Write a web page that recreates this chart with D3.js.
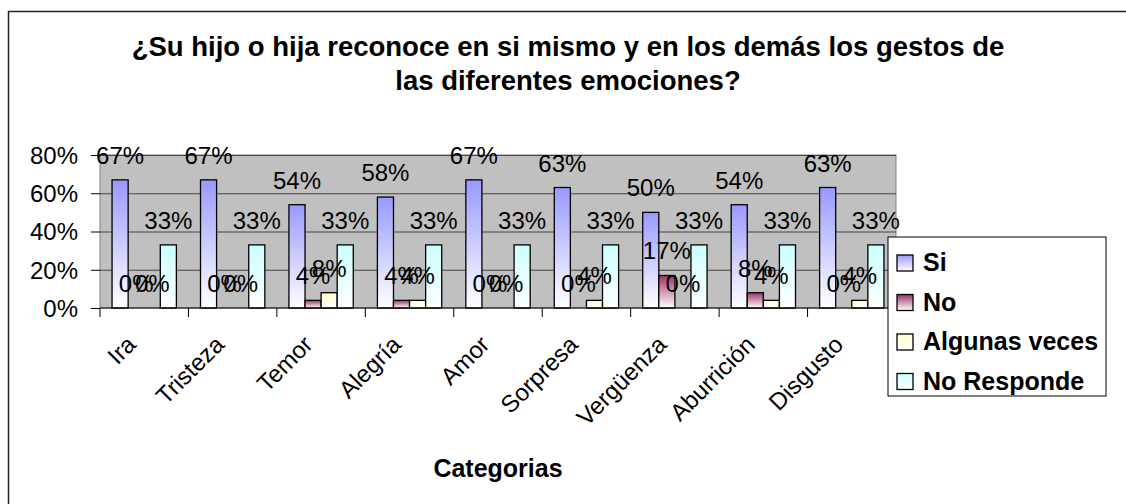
<!DOCTYPE html>
<html>
<head>
<meta charset="utf-8">
<script src="https://d3js.org/d3.v7.min.js"></script>
<style>
  body { margin: 0; background: #fff; }
  text { font-family: Arial, "Liberation Sans", sans-serif; fill: #000; }
</style>
</head>
<body>
<svg id="chart"></svg>
<script>
    // Data
    var categories = ["Ira", "Tristeza", "Temor", "Alegría", "Amor", "Sorpresa", "Vergüenza", "Aburrición", "Disgusto"];
    var seriesNames = ["Si", "No", "Algunas veces", "No Responde"];
    var si = [67, 67, 54, 58, 67, 63, 50, 54, 63];
    var no = [0, 0, 4, 4, 0, 0, 17, 8, 0];
    var algunas = [0, 0, 8, 4, 0, 4, 0, 4, 4];
    var noResponde = [33, 33, 33, 33, 33, 33, 33, 33, 33];
    var yTicks = [0, 20, 40, 60, 80];
    var seriesColors = ["#9999ff", "#993366", "#ffffcc", "#ccffff"];

    var values = [si, no, algunas, noResponde];
    var width = 1126, height = 504;
    var plot = { left: 100, right: 896, top: 155, bottom: 308 };

    var svg = d3.select('#chart')
        .attr('width', width)
        .attr('height', height);

    // gradients: colour at top fading to white
    var defs = svg.append('defs');
    seriesColors.forEach(function (c, i) {
        var g = defs.append('linearGradient')
            .attr('id', 'grad' + i)
            .attr('x1', 0).attr('y1', 0).attr('x2', 0).attr('y2', 1);
        g.append('stop').attr('offset', '0%').attr('stop-color', c);
        g.append('stop').attr('offset', '100%').attr('stop-color', '#fff');
    });

    // outer frame (cropped at right and bottom)
    svg.append('rect')
        .attr('x', 8.5).attr('y', 11.5)
        .attr('width', 1200).attr('height', 600)
        .attr('fill', 'none').attr('stroke', '#222').attr('stroke-width', 1.5);

    // title
    var title = svg.append('text')
        .attr('text-anchor', 'middle')
        .style('font-weight', 'bold')
        .style('font-size', '27.5px');
    title.append('tspan').attr('x', 568).attr('y', 56)
        .text('¿Su hijo o hija reconoce en si mismo y en los demás los gestos de');
    title.append('tspan').attr('x', 568).attr('y', 90)
        .text('las diferentes emociones?');

    // scales
    var x0 = d3.scaleBand()
        .domain(categories)
        .range([plot.left, plot.right]);
    var x1 = d3.scaleBand()
        .domain(d3.range(seriesNames.length))
        .range([0, x0.bandwidth()])
        .paddingOuter(0.75);
    var y = d3.scaleLinear()
        .domain([0, 80])
        .range([plot.bottom, plot.top]);

    // plot area
    svg.append('rect')
        .attr('x', plot.left).attr('y', plot.top)
        .attr('width', plot.right - plot.left)
        .attr('height', plot.bottom - plot.top)
        .attr('fill', '#c0c0c0')
        .attr('stroke', '#808080');

    svg.append('g').selectAll('line')
        .data(yTicks.slice(1))
        .enter().append('line')
        .attr('x1', plot.left).attr('x2', plot.right)
        .attr('y1', function (d) { return y(d) + 0.5; })
        .attr('y2', function (d) { return y(d) + 0.5; })
        .attr('stroke', '#444');

    // y axis
    var yAxis = svg.append('g')
        .attr('transform', 'translate(' + plot.left + ',0)')
        .call(d3.axisLeft(y).tickValues(yTicks).tickSize(9).tickPadding(13)
            .tickFormat(function (d) { return d + '%'; }));
    yAxis.select('.domain').remove();
    yAxis.selectAll('line').attr('stroke', '#000');
    yAxis.selectAll('text').style('font-size', '24px').attr('dy', '0.35em');

    // bars
    var groups = svg.append('g').selectAll('g')
        .data(categories)
        .enter().append('g')
        .attr('transform', function (d) { return 'translate(' + x0(d) + ',0)'; });

    groups.selectAll('rect')
        .data(function (d, ci) { return values.map(function (s, si) { return { s: si, v: s[ci] }; }); })
        .enter().append('rect')
        .attr('x', function (d) { return x1(d.s); })
        .attr('y', function (d) { return y(d.v); })
        .attr('width', x1.bandwidth())
        .attr('height', function (d) { return plot.bottom - y(d.v); })
        .attr('fill', function (d) { return 'url(#grad' + d.s + ')'; })
        .attr('stroke', '#000')
        .attr('stroke-width', 1.3);

    // x axis
    var xAxis = svg.append('g')
        .attr('transform', 'translate(0,' + plot.bottom + ')');
    xAxis.append('line')
        .attr('x1', plot.left).attr('x2', plot.right)
        .attr('stroke', '#000');
    xAxis.selectAll('.tick')
        .data(categories.concat(['end']))
        .enter().append('line')
        .attr('x1', function (d, i) { return i < categories.length ? x0(d) : plot.right; })
        .attr('x2', function (d, i) { return i < categories.length ? x0(d) : plot.right; })
        .attr('y1', 0).attr('y2', 9)
        .attr('stroke', '#000');
    xAxis.selectAll('text')
        .data(categories)
        .enter().append('text')
        .attr('text-anchor', 'end')
        .style('font-size', '24px')
        .attr('transform', function (d) {
            return 'translate(' + (x0(d) + x0.bandwidth() / 2 - 7) + ',38) rotate(-45)';
        })
        .text(function (d) { return d; });

    svg.append('text')
        .attr('x', (plot.left + plot.right) / 2).attr('y', 477)
        .attr('text-anchor', 'middle')
        .style('font-weight', 'bold')
        .style('font-size', '25px')
        .text('Categorias');

    // data labels
    groups.selectAll('text')
        .data(function (d, ci) { return values.map(function (s, si) { return { s: si, v: s[ci] }; }); })
        .enter().append('text')
        .attr('x', function (d) { return x1(d.s) + x1.bandwidth() / 2; })
        .attr('y', function (d) { return y(d.v) - 16; })
        .attr('text-anchor', 'middle')
        .style('font-size', '24px')
        .text(function (d) { return d.v + '%'; });

    // legend
    var legend = svg.append('g').attr('transform', 'translate(888,237)');
    legend.append('rect')
        .attr('width', 218).attr('height', 159)
        .attr('fill', '#fff').attr('stroke', '#000');
    var items = legend.selectAll('g')
        .data(seriesNames)
        .enter().append('g')
        .attr('transform', function (d, i) { return 'translate(9,' + (18 + i * 39.5) + ')'; });
    items.append('rect')
        .attr('width', 16).attr('height', 16)
        .attr('fill', function (d, i) { return 'url(#grad' + i + ')'; })
        .attr('stroke', '#000').attr('stroke-width', 1.3);
    items.append('text')
        .attr('x', 26).attr('y', 16)
        .style('font-weight', 'bold')
        .style('font-size', '25px')
        .text(function (d) { return d; });
</script>
</body>
</html>
